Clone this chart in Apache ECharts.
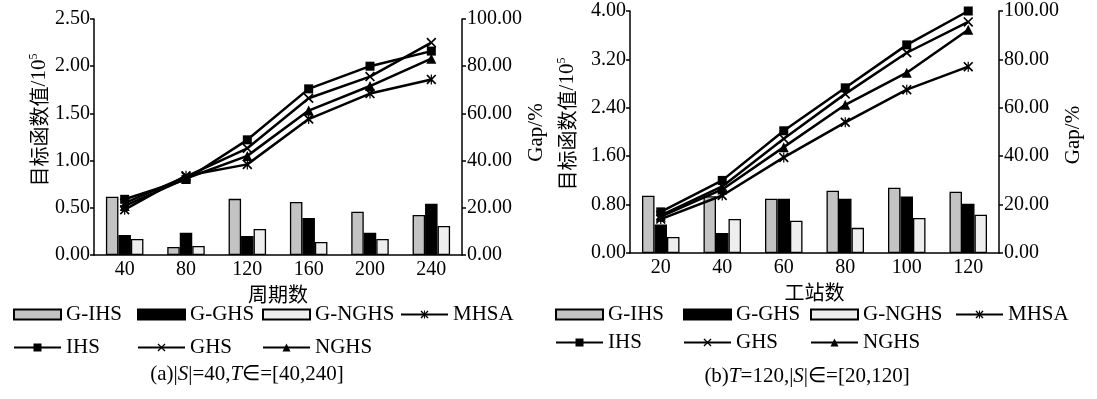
<!DOCTYPE html>
<html>
<head>
<meta charset="utf-8">
<script src="https://cdn.jsdelivr.net/npm/echarts@6/dist/echarts.min.js"></script>
<style>
html,body{margin:0;padding:0;background:#fff;}
#chart{width:1097px;height:399px;}
</style>
</head>
<body>
<div id="chart"></div>
<script>
// ---- Data ----
const catsA = ['40','80','120','160','200','240'];
const gIhsA  = [24.7, 3.4, 23.8, 22.5, 18.3, 17.0];
const gGhsA  = [8.5, 9.4, 8.1, 15.7, 9.4, 21.7];
const gNghsA = [6.8, 3.8, 11.0, 5.5, 6.8, 12.3];
const mhsaA  = [0.48, 0.84, 0.96, 1.44, 1.71, 1.86];
const ihsA   = [0.59, 0.80, 1.22, 1.76, 2.00, 2.16];
const ghsA   = [0.55, 0.83, 1.13, 1.66, 1.89, 2.25];
const nghsA  = [0.52, 0.81, 1.05, 1.53, 1.79, 2.08];

const catsB = ['20','40','60','80','100','120'];
const gIhsB  = [23.7, 23.5, 22.4, 25.7, 27.0, 25.3];
const gGhsB  = [11.8, 8.3, 22.4, 22.4, 23.3, 20.3];
const gNghsB = [6.6, 14.1, 13.3, 10.4, 14.5, 15.8];
const mhsaB  = [0.56, 0.95, 1.58, 2.16, 2.70, 3.08];
const ihsB   = [0.68, 1.20, 2.02, 2.73, 3.44, 4.00];
const ghsB   = [0.62, 1.10, 1.89, 2.63, 3.31, 3.82];
const nghsB  = [0.60, 1.05, 1.75, 2.45, 2.98, 3.69];

const leftTicksA = {min: 0, max: 2.5, interval: 0.5};
const leftTicksB = {min: 0, max: 4.0, interval: 0.8};
const rightTicks = {min: 0, max: 100, interval: 20};

const xNameA = '周期数';
const xNameB = '工站数';
const captionA = '(a)|{i|S}|=40,{i|T}∈=[40,240]';
const captionB = '(b){i|T}=120,|{i|S}|∈=[20,120]';

// ---- Styles ----
const SERIF = '"Liberation Serif","Times New Roman",serif';
const CJK = '"Noto Sans CJK SC","Noto Sans",sans-serif';
const BLACK = '#000';

const pathX = 'path://M0,1.2L1.2,0L10,8.8L8.8,10Z M8.8,0L10,1.2L1.2,10L0,8.8Z';
const pathStar = 'path://M0,1.2L1.2,0L10,8.8L8.8,10Z M8.8,0L10,1.2L1.2,10L0,8.8Z M4.4,0L5.6,0L5.6,10L4.4,10Z';

const chart = echarts.init(document.getElementById('chart'), null, {renderer: 'canvas'});

function xAxis(idx, cats, name) {
  return {
    type: 'category', gridIndex: idx, data: cats,
    name: name, nameLocation: 'middle', nameGap: 18,
    nameTextStyle: {fontFamily: CJK, fontSize: 20, color: BLACK},
    axisLine: {show: true, lineStyle: {color: BLACK, width: 1.5}},
    axisTick: {show: false},
    axisLabel: {fontFamily: SERIF, fontSize: 20, color: BLACK, margin: 5},
    splitLine: {show: false}
  };
}
function leftAxis(idx, t, gap, shift) {
  return {
    type: 'value', gridIndex: idx, position: 'left',
    min: t.min, max: t.max, interval: t.interval,
    name: '{c|目标函数值}{n|/10}{s|5}', nameLocation: 'middle', nameGap: gap,
    nameTextStyle: {
      color: BLACK, padding: [0, 0, 0, shift],
      rich: {
        c: {fontFamily: CJK, fontSize: 20, color: BLACK},
        n: {fontFamily: SERIF, fontSize: 21, color: BLACK},
        s: {fontFamily: SERIF, fontSize: 12, color: BLACK, verticalAlign: 'top', padding: [0, 0, 10, 0]}
      }
    },
    axisLine: {show: true, lineStyle: {color: BLACK, width: 1.5}},
    axisTick: {show: true, length: 4, lineStyle: {color: BLACK, width: 1.5}},
    axisLabel: {fontFamily: SERIF, fontSize: 20, color: BLACK, margin: 4,
      formatter: v => v.toFixed(2)},
    splitLine: {show: false}
  };
}
function rightAxis(idx, gap, shift) {
  return {
    type: 'value', gridIndex: idx, position: 'right',
    min: rightTicks.min, max: rightTicks.max, interval: rightTicks.interval,
    name: 'Gap/%', nameLocation: 'middle', nameGap: gap,
    nameTextStyle: {fontFamily: SERIF, fontSize: 21, color: BLACK, padding: [0, 0, 0, shift]},
    axisLine: {show: true, lineStyle: {color: BLACK, width: 1.5}},
    axisTick: {show: true, length: 4, lineStyle: {color: BLACK, width: 1.5}},
    axisLabel: {fontFamily: SERIF, fontSize: 20, color: BLACK, margin: 5,
      formatter: v => v.toFixed(2)},
    splitLine: {show: false}
  };
}
function bar(name, data, xi, yi, color) {
  return {
    name: name, type: 'bar', xAxisIndex: xi, yAxisIndex: yi, data: data,
    barWidth: 12.5, barGap: '0%',
    itemStyle: {color: color, borderColor: BLACK, borderWidth: 1.3},
    z: 2
  };
}
function line(name, data, xi, yi, symbol, size) {
  return {
    name: name, type: 'line', xAxisIndex: xi, yAxisIndex: yi, data: data,
    symbol: symbol, symbolSize: size, showSymbol: true,
    lineStyle: {color: BLACK, width: 2.5},
    itemStyle: {color: BLACK, borderColor: BLACK, borderWidth: 0},
    z: 5
  };
}

const GRAY = '#c3c3c3', LIGHT = '#eeeeee';

const series = [
  bar('G-IHS', gIhsA, 0, 1, GRAY),
  bar('G-GHS', gGhsA, 0, 1, BLACK),
  bar('G-NGHS', gNghsA, 0, 1, LIGHT),
  line('MHSA', mhsaA, 0, 0, pathStar, 10),
  line('IHS', ihsA, 0, 0, 'rect', 9),
  line('GHS', ghsA, 0, 0, pathX, 10),
  line('NGHS', nghsA, 0, 0, 'triangle', 10),
  bar('G-IHS', gIhsB, 1, 3, GRAY),
  bar('G-GHS', gGhsB, 1, 3, BLACK),
  bar('G-NGHS', gNghsB, 1, 3, LIGHT),
  line('MHSA', mhsaB, 1, 2, pathStar, 10),
  line('IHS', ihsB, 1, 2, 'rect', 9),
  line('GHS', ghsB, 1, 2, pathX, 10),
  line('NGHS', nghsB, 1, 2, 'triangle', 10)
];

const legendBase = {
  orient: 'horizontal', itemWidth: 47, itemHeight: 10, padding: 0,
  selectedMode: false,
  textStyle: {fontFamily: SERIF, fontSize: 21, color: BLACK}
};
const legendSlots = [
  // [name, left, top, isBar]
  ['G-IHS', 13, 304, true], ['G-GHS', 137, 304, true], ['G-NGHS', 262, 304, true], ['MHSA', 400, 304, false],
  ['IHS', 13, 337, false], ['GHS', 137, 337, false], ['NGHS', 262, 337, false],
  ['G-IHS', 555, 304, true], ['G-GHS', 683, 304, true], ['G-NGHS', 810, 304, true], ['MHSA', 955, 304, false],
  ['IHS', 555, 332, false], ['GHS', 683, 332, false], ['NGHS', 810, 332, false]
];
const legends = legendSlots.map(s => Object.assign({}, legendBase, {
  left: s[1], top: s[2],
  data: [s[3] ? {name: s[0], icon: 'rect'} : {name: s[0]}]
}));

function caption(text, x, y) {
  return {
    type: 'text', x: x, y: y,
    style: {
      text: text, fontFamily: SERIF, fontSize: 21, fill: BLACK,
      align: 'center', verticalAlign: 'middle',
      rich: {i: {fontFamily: SERIF, fontSize: 21, fontStyle: 'italic', fill: BLACK}}
    }
  };
}

const option = {
  animation: false,
  backgroundColor: '#fff',
  grid: [
    {left: 94, top: 19, width: 368, height: 236, containLabel: false, outerBoundsMode: 'none'},
    {left: 630, top: 11, width: 369, height: 242, containLabel: false, outerBoundsMode: 'none'}
  ],
  legend: legends,
  xAxis: [xAxis(0, catsA, xNameA), xAxis(1, catsB, xNameB)],
  yAxis: [
    leftAxis(0, leftTicksA, 44, 34),
    rightAxis(0, 56, 9),
    leftAxis(1, leftTicksB, 52, 16),
    rightAxis(1, 63, -6)
  ],
  series: series,
  graphic: [caption(captionA, 247, 374), caption(captionB, 807, 376)]
};
chart.setOption(option);
</script>
</body>
</html>
